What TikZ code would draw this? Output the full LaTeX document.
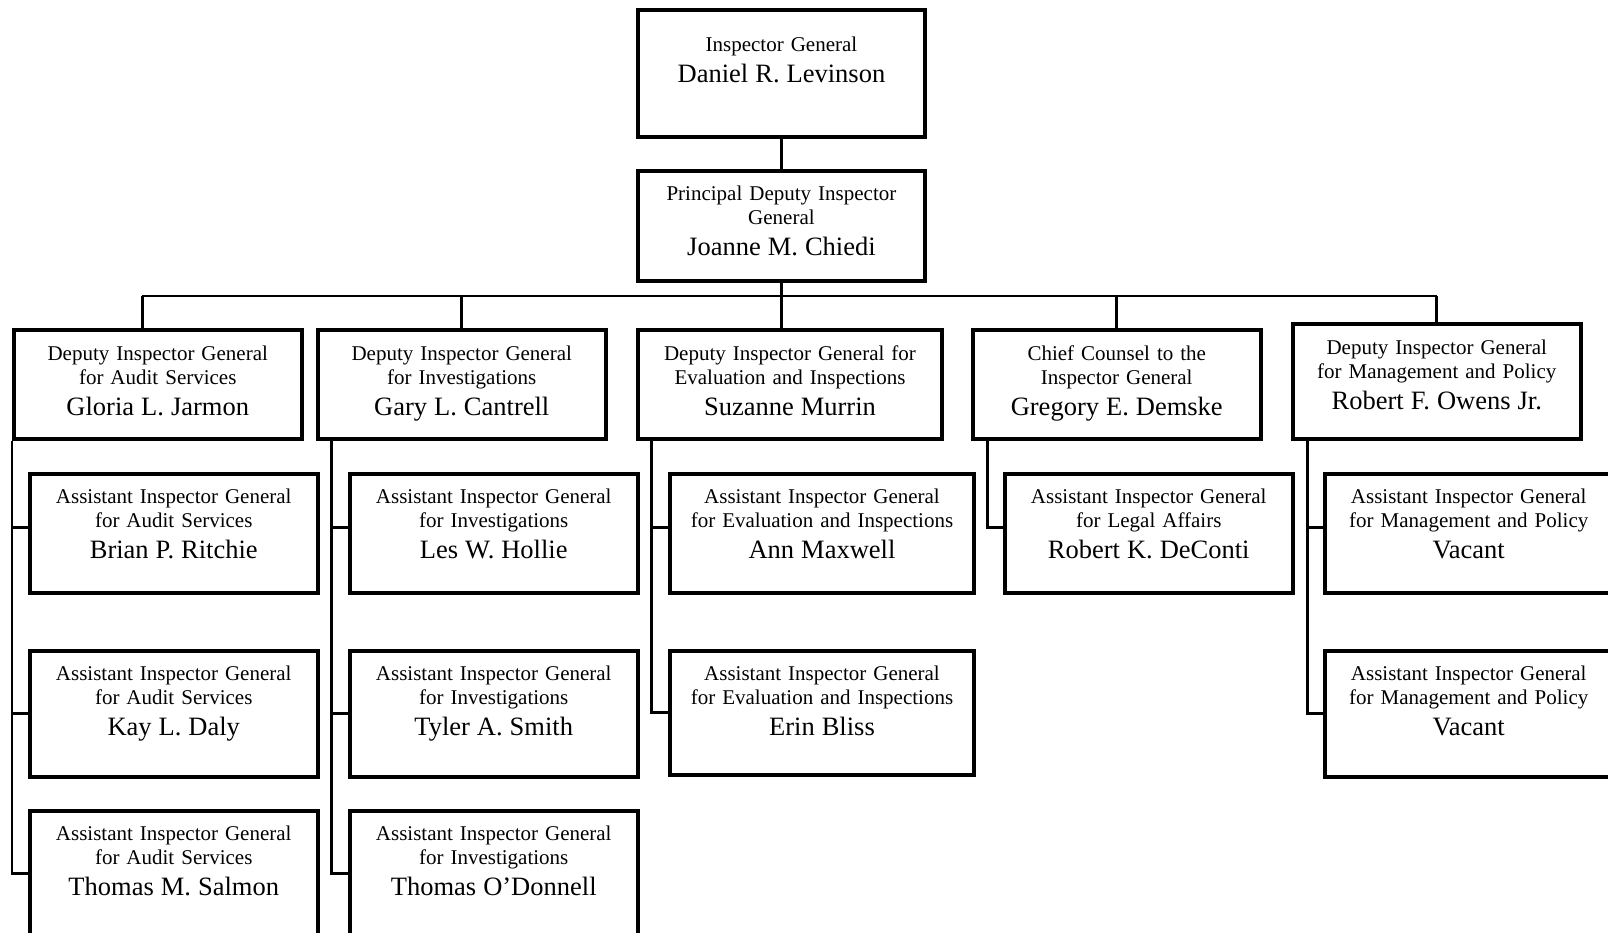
\documentclass[tikz,border=0pt]{standalone}
\usepackage{fontspec}
\setmainfont{Liberation Serif}
\newcommand{\who}[1]{\par\fontsize{26.5}{31}\selectfont #1\par}
\begin{document}
\begin{tikzpicture}[x=1pt, y=-1pt,
    box/.style={draw, line width=4pt, inner sep=0pt, anchor=north west, text width=287.5pt,
      align=center, text height=30pt, font=\fontsize{21}{24}\selectfont},
    wide/.style={text width=304pt},
    conn/.style={line width=2.6pt}]
  \path[use as bounding box, clip] (0,0) rectangle (1608,932);
  \node[box, text height=41pt, text depth=85.4pt] (ig) at (635.7,8.3) {Inspector General\who{Daniel R. Levinson}};
  \node[box, text depth=80pt] (pdig) at (635.7,168.7) {Principal Deputy Inspector\\General\who{Joanne M. Chiedi}};

  \node[box, text depth=79pt] (dAudit) at (12,328) {Deputy Inspector General\\for Audit Services\who{Gloria L. Jarmon}};
  \node[box, text depth=79pt] (dInv) at (316,328) {Deputy Inspector General\\for Investigations\who{Gary L. Cantrell}};
  \node[box, wide, text depth=79pt] (dEval) at (636,328) {Deputy Inspector General for\\Evaluation and Inspections\who{Suzanne Murrin}};
  \node[box, text depth=79pt] (dLegal) at (971,328) {Chief Counsel to the\\Inspector General\who{Gregory E. Demske}};
  \node[box, text depth=85pt] (dMgmt) at (1291,322) {Deputy Inspector General\\for Management and Policy\who{Robert F. Owens Jr.}};

  \node[box, text height=29pt, text depth=90pt] (aAudit1) at (28,472) {Assistant Inspector General\\for Audit Services\who{Brian P. Ritchie}};
  \node[box, text depth=96pt] (aAudit2) at (28,648.5) {Assistant Inspector General\\for Audit Services\who{Kay L. Daly}};
  \node[box, text depth=96pt] (aAudit3) at (28,808.5) {Assistant Inspector General\\for Audit Services\who{Thomas M. Salmon}};

  \node[box, text height=29pt, text depth=90pt] (aInv1) at (348,472) {Assistant Inspector General\\for Investigations\who{Les W. Hollie}};
  \node[box, text depth=96pt] (aInv2) at (348,648.5) {Assistant Inspector General\\for Investigations\who{Tyler A. Smith}};
  \node[box, text depth=96pt] (aInv3) at (348,808.5) {Assistant Inspector General\\for Investigations\who{Thomas O’Donnell}};

  \node[box, wide, text height=29pt, text depth=90pt] (aEval1) at (668,472) {Assistant Inspector General\\for Evaluation and Inspections\who{Ann Maxwell}};
  \node[box, wide, text depth=94pt] (aEval2) at (668,648.5) {Assistant Inspector General\\for Evaluation and Inspections\who{Erin Bliss}};

  \node[box, text height=29pt, text depth=90pt] (aLegal) at (1003,472) {Assistant Inspector General\\for Legal Affairs\who{Robert K. DeConti}};

  \node[box, text height=29pt, text depth=90pt] (aMgmt1) at (1323,472) {Assistant Inspector General\\for Management and Policy\who{Vacant}};
  \node[box, text depth=96pt] (aMgmt2) at (1323,648.5) {Assistant Inspector General\\for Management and Policy\who{Vacant}};

  \coordinate (bus) at (0,296);
  \draw[conn] (ig) -- (pdig);
  \draw[conn] (pdig.south) -- (pdig.south |- bus);
  \draw[conn] ([xshift=-15.5pt]dAudit.north |- bus) -- (dMgmt.north |- bus);
  \draw[conn] ([xshift=-15.5pt]dAudit.north) -- ([xshift=-15.5pt]dAudit.north |- bus);
  \draw[conn] (dInv.north) -- (dInv.north |- bus);
  \draw[conn] (pdig.south |- dEval.north) -- (pdig.south |- bus);
  \draw[conn] (dLegal.north) -- (dLegal.north |- bus);
  \draw[conn] (dMgmt.north) -- (dMgmt.north |- bus);

  \coordinate (tAudit) at (dAudit.south west);
  \coordinate (tInv) at ([xshift=15.5pt]dInv.south west);
  \coordinate (tEval) at ([xshift=15.5pt]dEval.south west);
  \coordinate (tLegal) at ([xshift=16.5pt]dLegal.south west);
  \coordinate (tMgmt) at ([xshift=16.5pt]dMgmt.south west);

  \draw[conn] (tAudit) |- ([yshift=6pt]aAudit1.west);
  \draw[conn] (tAudit) |- (aAudit2.west);
  \draw[conn] (tAudit) |- (aAudit3.west);
  \draw[conn] (tInv) |- ([yshift=6pt]aInv1.west);
  \draw[conn] (tInv) |- (aInv2.west);
  \draw[conn] (tInv) |- (aInv3.west);
  \draw[conn] (tEval) |- ([yshift=6pt]aEval1.west);
  \draw[conn] (tEval) |- (aEval2.west);
  \draw[conn] (tLegal) |- ([yshift=6pt]aLegal.west);
  \draw[conn] (tMgmt) |- ([yshift=6pt]aMgmt1.west);
  \draw[conn] (tMgmt) |- (aMgmt2.west);
\end{tikzpicture}
\end{document}
